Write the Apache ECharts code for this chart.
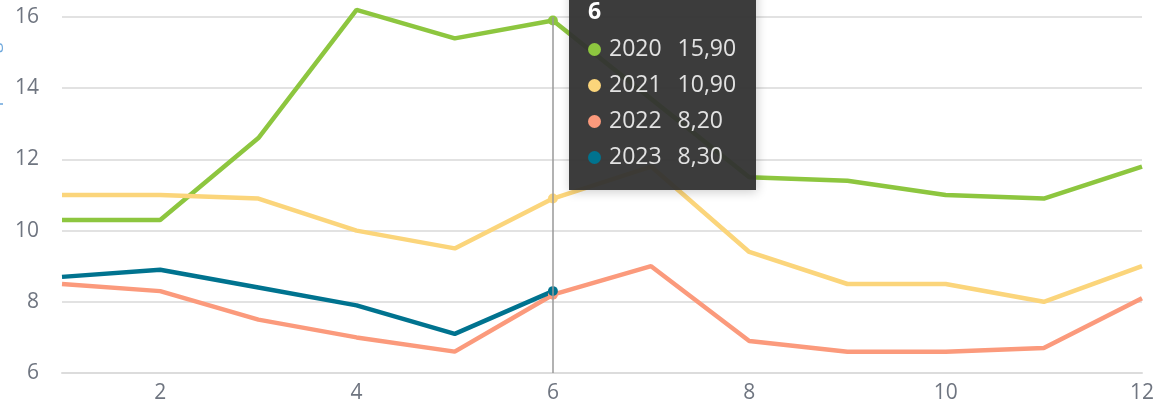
<!DOCTYPE html>
<html>
<head>
<meta charset="utf-8">
<script src="https://cdn.jsdelivr.net/npm/echarts@6/dist/echarts.min.js"></script>
<style>
  html, body { margin: 0; padding: 0; background: #fff; }
  #chart { width: 1168px; height: 404px; }
</style>
</head>
<body>
<div id="chart"></div>
<script>
// Monate 1..12
var months = ['1', '2', '3', '4', '5', '6', '7', '8', '9', '10', '11', '12'];
var years = ['2020', '2021', '2022', '2023'];
var colors = ['#8dc63f', '#fbd57b', '#fb9a7c', '#00738f'];

var values2020 = [10.3, 10.3, 12.6, 16.2, 15.4, 15.9, 13.7, 11.5, 11.4, 11.0, 10.9, 11.8];
var values2021 = [11.0, 11.0, 10.9, 10.0, 9.5, 10.9, 11.8, 9.4, 8.5, 8.5, 8.0, 9.0];
var values2022 = [8.5, 8.3, 7.5, 7.0, 6.6, 8.2, 9.0, 6.9, 6.6, 6.6, 6.7, 8.1];
var values2023 = [8.7, 8.9, 8.4, 7.9, 7.1, 8.3, null, null, null, null, null, null];

var yTicks = { min: 6, max: 16, interval: 2 };

var chart = echarts.init(document.getElementById('chart'));

function fmt(v) {
  return v.toFixed(2).replace('.', ',');
}

var allValues = [values2020, values2021, values2022, values2023];

chart.setOption({
  animation: false,
  color: colors,
  textStyle: { fontFamily: 'Open Sans' },
  grid: { left: 62, right: 26, top: 17, bottom: 31 },
  graphic: [{
    type: 'text',
    x: -15,
    y: 125,
    rotation: Math.PI / 2,
    style: { text: 'Ø pro Tag', fill: '#6fa8dc', font: '18px "Open Sans"' }
  }],
  tooltip: {
    trigger: 'axis',
    alwaysShowContent: true,
    backgroundColor: 'rgba(50,50,50,0.95)',
    borderWidth: 0,
    borderRadius: 0,
    padding: [14, 20, 17, 19],
    textStyle: { color: '#e2e2e2', fontSize: 23, fontFamily: 'Open Sans' },
    position: function (pt) {
      return [pt[0] + 16, -23];
    },
    axisPointer: {
      type: 'line',
      lineStyle: { color: '#999', width: 1.5, type: 'solid' }
    },
    formatter: function (params) {
      var html = '<div style="font-weight:bold;line-height:38px;color:#fff">' + params[0].name + '</div>';
      html += '<table style="border-collapse:collapse;line-height:36px">';
      params.forEach(function (p) {
        if (p.value == null) return;
        html += '<tr><td style="padding:0;vertical-align:top">' +
          '<span style="display:inline-block;width:13px;height:13px;border-radius:50%;margin-top:4px;margin-right:8px;background:' + p.color + '"></span></td>' +
          '<td style="padding:0">' + p.seriesName + '</td>' +
          '<td style="padding:0 0 0 16px">' + fmt(p.value) + '</td></tr>';
      });
      html += '</table>';
      return html;
    }
  },
  xAxis: {
    type: 'category',
    data: months,
    boundaryGap: false,
    axisLine: { lineStyle: { color: '#dcdcdc', width: 2 } },
    axisTick: { show: false },
    axisLabel: {
      color: '#6f7580',
      fontSize: 21,
      margin: 10,
      interval: function (i, v) { return (+v) % 2 === 0; }
    },
    splitLine: { show: false }
  },
  yAxis: {
    type: 'value',
    min: yTicks.min,
    max: yTicks.max,
    interval: yTicks.interval,
    axisLine: { show: false },
    axisTick: { show: false },
    axisLabel: { color: '#6f7580', fontSize: 21, margin: 23 },
    splitLine: { lineStyle: { color: '#d8d8d8', width: 1.5 } }
  },
  series: years.map(function (y, i) {
    return {
      name: y,
      type: 'line',
      data: allValues[i],
      clip: false,
      showSymbol: false,
      symbol: 'circle',
      symbolSize: 9,
      lineStyle: { width: 4.5 },
      emphasis: { disabled: true }
    };
  })
});

chart.dispatchAction({ type: 'showTip', seriesIndex: 0, dataIndex: 5 });
</script>
</body>
</html>
